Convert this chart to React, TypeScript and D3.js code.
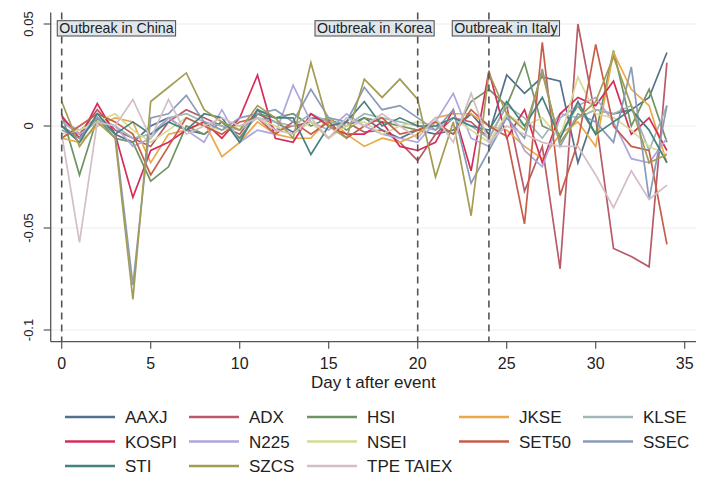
import React, { useEffect, useRef } from "react";
import * as d3 from "d3";

// ---------- data ----------
const days = d3.range(0, 35);

const seriesNames = [
  "AAXJ", "ADX", "HSI", "JKSE", "KLSE",
  "KOSPI", "N225", "NSEI", "SET50", "SSEC",
  "STI", "SZCS", "TPE TAIEX",
];

const seriesColors = [
  "#55708c", "#b85a68", "#6f9464", "#eaa847", "#a2b6ba",
  "#d62c5a", "#aea6dc", "#d5db95", "#c75e48", "#8a9bb8",
  "#468280", "#a39c55", "#d3bec6",
];

const AAXJ = [0.000, -0.006, 0.004, -0.004, -0.008, 0.000, 0.004, -0.002, -0.004, 0.002, -0.006, 0.006, 0.002, -0.003, 0.004, 0.003, 0.000, 0.004, -0.002, -0.006, -0.002, -0.004, -0.002, 0.006, -0.004, 0.025, 0.016, 0.024, 0.022, -0.018, 0.008, 0.006, 0.008, 0.014, 0.036];
const ADX = [0.004, -0.004, 0.008, -0.002, -0.006, -0.010, 0.002, 0.008, 0.004, 0.000, -0.004, 0.008, -0.002, 0.000, 0.002, -0.006, 0.002, -0.003, -0.002, -0.008, -0.017, -0.004, 0.004, 0.002, -0.006, 0.010, -0.032, -0.010, -0.070, 0.050, 0.004, -0.060, -0.064, -0.069, 0.031];
const HSI = [0.006, -0.024, 0.004, -0.006, -0.008, -0.027, -0.020, 0.000, -0.004, 0.002, -0.006, 0.006, 0.004, 0.006, 0.000, 0.004, -0.002, 0.004, 0.002, 0.000, -0.002, 0.000, -0.004, 0.012, 0.018, 0.010, 0.031, 0.000, -0.004, 0.010, -0.004, 0.037, 0.000, 0.018, -0.008];
const JKSE = [-0.006, -0.008, 0.000, 0.004, 0.002, -0.018, -0.004, -0.002, 0.002, -0.015, -0.008, 0.002, -0.004, -0.006, -0.006, 0.004, -0.004, -0.010, -0.006, -0.008, -0.004, 0.004, 0.006, 0.006, 0.000, -0.002, -0.010, -0.016, -0.004, 0.002, -0.010, 0.036, 0.018, 0.010, -0.018];
const KLSE = [0.002, -0.002, 0.004, 0.000, -0.006, -0.004, 0.004, 0.006, 0.002, 0.000, -0.002, 0.004, 0.002, 0.000, 0.006, 0.002, 0.000, 0.006, 0.004, 0.002, 0.000, -0.002, 0.004, 0.000, -0.006, 0.010, 0.004, -0.006, 0.006, 0.004, 0.008, 0.006, 0.010, -0.012, 0.010];
const KOSPI = [0.005, -0.006, 0.011, -0.004, -0.035, -0.012, -0.008, -0.002, 0.002, -0.006, 0.004, 0.025, -0.006, -0.008, 0.006, 0.000, -0.004, -0.004, 0.002, -0.010, -0.012, -0.008, 0.008, -0.022, 0.027, -0.006, 0.008, -0.018, 0.006, 0.014, 0.010, 0.022, -0.004, 0.004, -0.012];
const N225 = [0.002, -0.004, 0.002, 0.000, -0.010, -0.006, 0.004, -0.002, -0.008, 0.008, -0.008, -0.002, -0.004, 0.020, 0.002, -0.002, 0.006, 0.000, -0.004, -0.006, -0.008, 0.002, 0.016, -0.006, -0.010, 0.006, -0.012, -0.020, 0.004, 0.010, 0.014, 0.002, -0.016, -0.018, -0.006];
const NSEI = [-0.004, -0.002, 0.002, 0.006, -0.002, -0.008, -0.002, 0.004, 0.000, -0.002, 0.000, 0.004, 0.000, -0.004, 0.002, -0.006, 0.000, 0.002, -0.004, 0.000, 0.002, 0.000, 0.004, -0.002, -0.008, 0.006, 0.000, 0.004, -0.006, 0.024, 0.006, 0.004, -0.002, -0.010, -0.014];
const SET50 = [-0.006, 0.000, 0.006, 0.002, -0.004, -0.024, -0.010, 0.004, 0.000, -0.004, 0.002, 0.004, -0.004, 0.002, -0.004, 0.002, -0.006, 0.000, 0.004, -0.004, -0.002, 0.002, -0.004, 0.008, 0.000, -0.005, -0.048, 0.041, -0.034, -0.008, 0.040, 0.000, -0.010, -0.012, -0.058];
const SSEC = [-0.002, -0.006, 0.004, -0.004, -0.078, 0.004, 0.006, 0.015, 0.002, -0.002, 0.004, 0.006, 0.008, 0.002, 0.018, 0.004, 0.002, 0.019, 0.008, 0.010, 0.004, -0.002, 0.008, -0.028, -0.012, 0.004, -0.006, 0.028, -0.010, 0.006, 0.002, -0.008, 0.029, -0.036, 0.010];
const STI = [0.000, -0.008, 0.006, -0.004, 0.002, -0.004, 0.002, -0.002, 0.006, 0.004, -0.008, 0.008, 0.004, 0.004, -0.014, 0.000, 0.002, 0.012, 0.000, 0.004, 0.000, 0.000, 0.004, 0.000, -0.002, 0.012, 0.000, 0.014, -0.006, 0.012, -0.004, 0.002, 0.008, -0.002, -0.018];
const SZCS = [0.012, -0.010, 0.002, -0.006, -0.085, 0.012, 0.019, 0.026, 0.008, 0.002, -0.002, 0.010, 0.004, -0.006, 0.031, 0.000, -0.006, 0.023, 0.014, 0.023, 0.013, -0.025, 0.002, -0.044, 0.026, 0.006, -0.002, 0.026, -0.008, 0.004, 0.012, 0.034, 0.010, -0.018, -0.014];
const TPE_TAIEX = [-0.004, -0.057, 0.002, 0.000, 0.013, -0.006, 0.013, -0.004, 0.000, 0.004, 0.000, 0.004, -0.002, -0.004, 0.004, -0.006, 0.004, 0.000, 0.006, 0.000, -0.006, 0.004, -0.008, 0.016, -0.008, 0.000, -0.004, -0.008, -0.010, -0.010, -0.024, -0.040, -0.022, -0.036, -0.029];

const seriesValues = [AAXJ, ADX, HSI, JKSE, KLSE, KOSPI, N225, NSEI, SET50, SSEC, STI, SZCS, TPE_TAIEX];

const xTicks = [0, 5, 10, 15, 20, 25, 30, 35];
const yTicks = [0.05, 0, -0.05, -0.1];
const yTickLabels = ["0.05", "0", "-0.05", "-0.1"];
const eventDays = [0, 20, 24];
const eventLabels = ["Outbreak in China", "Outbreak in Korea", "Outbreak in Italy"];
const eventLabelLeftDays = [-0.25, 14.23, 21.94];
const xTitle = "Day t after event";

// ---------- layout ----------
const W = 714;
const H = 489;
const FONT = "'Liberation Sans', Arial, Helvetica, sans-serif";

export default function App() {
  const ref = useRef<SVGSVGElement | null>(null);

  useEffect(() => {
    const svg = d3.select(ref.current);
    svg.selectAll("*").remove();

    const x = d3.scaleLinear().domain([0, 35]).range([61.7, 684.7]);
    const y = d3.scaleLinear().domain([-0.1, 0.05]).range([330, 24]);

    const axisLeft = 50.7;
    const axisRight = 696;
    const plotTop = 12.5;
    const axisBottom = 341.7;

    // gridlines
    svg.append("g")
      .selectAll("line")
      .data(yTicks)
      .join("line")
      .attr("x1", axisLeft)
      .attr("x2", axisRight)
      .attr("y1", (d) => y(d))
      .attr("y2", (d) => y(d))
      .attr("stroke", "#ececec")
      .attr("stroke-width", 1);

    // series lines
    const line = d3.line<number>()
      .x((_, i) => x(days[i]))
      .y((d) => y(d));

    svg.append("g")
      .selectAll("path")
      .data(seriesValues)
      .join("path")
      .attr("d", (d) => line(d))
      .attr("fill", "none")
      .attr("stroke", (_, i) => seriesColors[i])
      .attr("stroke-width", 1.7)
      .attr("stroke-linejoin", "miter");

    // event dashed lines
    svg.append("g")
      .selectAll("line")
      .data(eventDays)
      .join("line")
      .attr("x1", (d) => x(d))
      .attr("x2", (d) => x(d))
      .attr("y1", plotTop)
      .attr("y2", axisBottom)
      .attr("stroke", "#555")
      .attr("stroke-width", 1.6)
      .attr("stroke-dasharray", "7,5");

    // axes
    svg.append("line")
      .attr("x1", axisLeft).attr("x2", axisLeft)
      .attr("y1", plotTop).attr("y2", axisBottom)
      .attr("stroke", "#555").attr("stroke-width", 1.3);
    svg.append("line")
      .attr("x1", axisLeft).attr("x2", axisRight)
      .attr("y1", axisBottom).attr("y2", axisBottom)
      .attr("stroke", "#555").attr("stroke-width", 1.3);

    // y ticks & labels
    const yg = svg.append("g");
    yTicks.forEach((t, i) => {
      yg.append("line")
        .attr("x1", axisLeft - 7).attr("x2", axisLeft)
        .attr("y1", y(t)).attr("y2", y(t))
        .attr("stroke", "#555").attr("stroke-width", 1.2);
      yg.append("text")
        .attr("transform", `translate(28.5,${y(t)}) rotate(-90)`)
        .attr("text-anchor", "middle")
        .attr("dy", "0.36em")
        .attr("font-family", FONT)
        .attr("font-size", 13)
        .attr("fill", "#222")
        .text(yTickLabels[i]);
    });

    // x ticks & labels
    const xg = svg.append("g");
    xTicks.forEach((t) => {
      xg.append("line")
        .attr("x1", x(t)).attr("x2", x(t))
        .attr("y1", axisBottom).attr("y2", axisBottom + 7)
        .attr("stroke", "#555").attr("stroke-width", 1.2);
      xg.append("text")
        .attr("x", x(t))
        .attr("y", 369)
        .attr("text-anchor", "middle")
        .attr("font-family", FONT)
        .attr("font-size", 16)
        .attr("fill", "#222")
        .text(String(t));
    });

    svg.append("text")
      .attr("x", (axisLeft + axisRight) / 2)
      .attr("y", 388)
      .attr("text-anchor", "middle")
      .attr("font-family", FONT)
      .attr("font-size", 17)
      .attr("fill", "#222")
      .text(xTitle);

    // event labels
    const lg = svg.append("g");
    eventLabels.forEach((lab, i) => {
      const left = x(eventLabelLeftDays[i]);
      const g = lg.append("g");
      const rect = g.append("rect");
      const txt = g.append("text")
        .attr("x", left + 2)
        .attr("y", 33)
        .attr("font-family", FONT)
        .attr("font-size", 14.2)
        .attr("fill", "#222")
        .text(lab);
      const w = (txt.node() as SVGTextElement).getComputedTextLength();
      rect.attr("x", left)
        .attr("y", 20.7)
        .attr("width", w + 4)
        .attr("height", 15.3)
        .attr("fill", "#dfe7ec")
        .attr("stroke", "#4a4a4a")
        .attr("stroke-width", 1);
    });

    // legend
    const colX = [65, 189, 307, 459, 583];
    const rowY = [417, 441.5, 466];
    const leg = svg.append("g");
    seriesNames.forEach((name, i) => {
      const c = i % 5;
      const r = Math.floor(i / 5);
      leg.append("line")
        .attr("x1", colX[c]).attr("x2", colX[c] + 50)
        .attr("y1", rowY[r]).attr("y2", rowY[r])
        .attr("stroke", seriesColors[i])
        .attr("stroke-width", 2.6);
      leg.append("text")
        .attr("x", colX[c] + 60)
        .attr("y", rowY[r] + 6.2)
        .attr("font-family", FONT)
        .attr("font-size", 17)
        .attr("fill", "#222")
        .text(name);
    });
  }, []);

  return (
    <svg
      ref={ref}
      width={W}
      height={H}
      viewBox={`0 0 ${W} ${H}`}
      style={{ position: "absolute", left: 0, top: 0, background: "#fff" }}
    />
  );
}
